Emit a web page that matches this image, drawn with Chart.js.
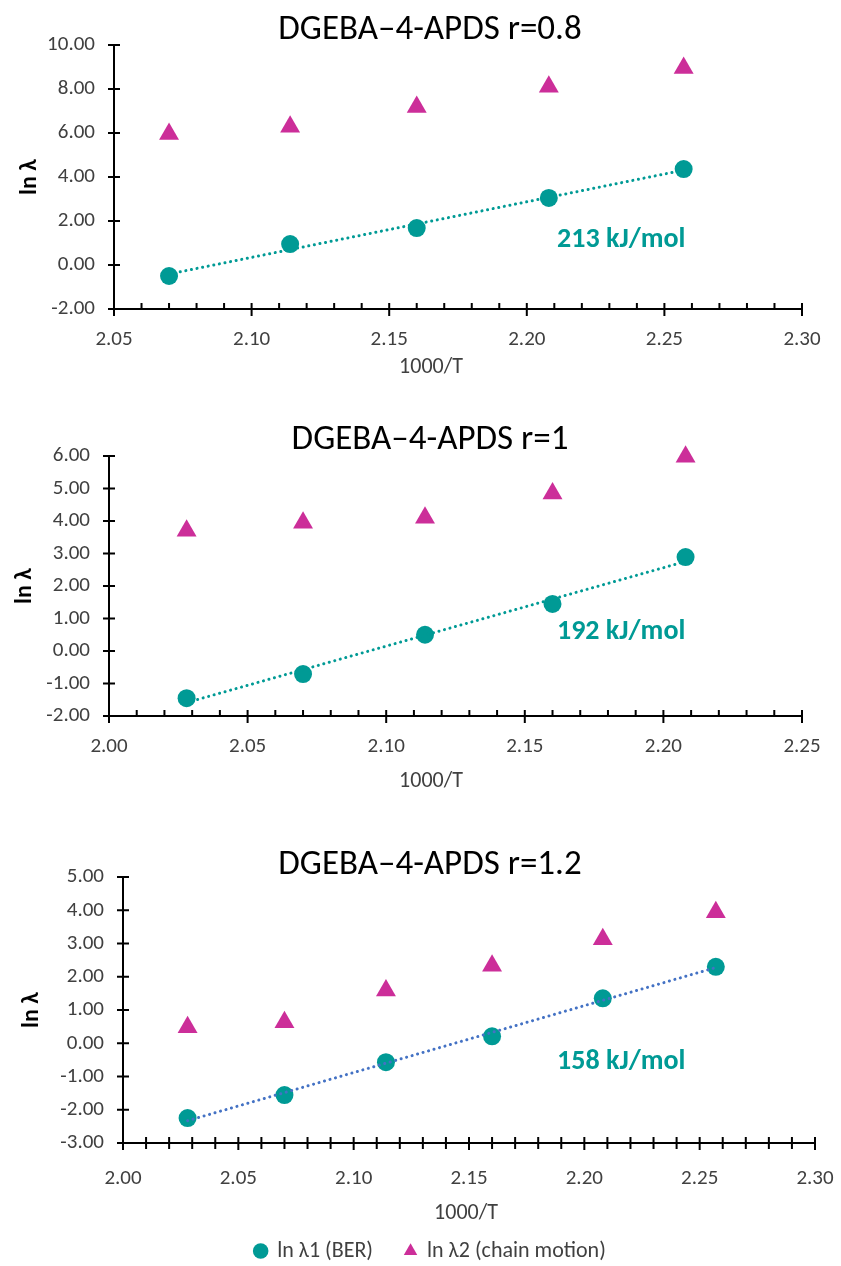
<!DOCTYPE html>
<html>
<head>
<meta charset="utf-8">
<script src="https://cdn.jsdelivr.net/npm/chart.js@4.4.1/dist/chart.umd.min.js"></script>
<style>
  body { margin: 0; background: #fff; width: 841px; height: 1266px; position: relative; overflow: hidden; }
  canvas { position: absolute; left: 0; }
</style>
</head>
<body>
<canvas id="c1" width="841" height="390" style="top:0"></canvas>
<canvas id="c2" width="841" height="410" style="top:400px"></canvas>
<canvas id="c3" width="841" height="446" style="top:820px"></canvas>
<script>
// 1000/T values and ln(lambda)
const xR08 = [2.070, 2.114, 2.160, 2.208, 2.257];
const lnL1R08 = [-0.50, 0.95, 1.68, 3.05, 4.36];
const lnL2R08 = [5.95, 6.28, 7.18, 8.10, 8.95];

const xR1 = [2.028, 2.070, 2.114, 2.160, 2.208];
const lnL1R1 = [-1.45, -0.71, 0.50, 1.45, 2.89];
const lnL2R1 = [3.70, 3.95, 4.10, 4.85, 5.98];

const xR12 = [2.028, 2.070, 2.114, 2.160, 2.208, 2.257];
const lnL1R12 = [-2.25, -1.56, -0.57, 0.21, 1.35, 2.30];
const lnL2R12 = [0.48, 0.63, 1.59, 2.33, 3.13, 3.94];

const titles = ['DGEBA\u20134-APDS r=0.8', 'DGEBA\u20134-APDS r=1', 'DGEBA\u20134-APDS r=1.2'];
const energies = ['213 kJ/mol', '192 kJ/mol', '158 kJ/mol'];
const seriesNames = ['ln \u03bb1 (BER)', 'ln \u03bb2 (chain motion)'];

const TEAL = '#009a95';
const MAGENTA = '#cc2e99';
const FONT = "Carlito, 'Liberation Sans', Arial, sans-serif";

function fit(xs, ys) {
  const n = xs.length;
  const mx = xs.reduce((a, b) => a + b, 0) / n;
  const my = ys.reduce((a, b) => a + b, 0) / n;
  let sxy = 0, sxx = 0;
  xs.forEach((x, i) => { sxy += (x - mx) * (ys[i] - my); sxx += (x - mx) * (x - mx); });
  const b = sxy / sxx;
  const a = my - b * mx;
  const x0 = xs[0], x1 = xs[n - 1];
  return [{ x: x0, y: a + b * x0 }, { x: x1, y: a + b * x1 }];
}

const decor = {
  id: 'decor',
  afterLayout(chart, args, o) {
    // legend sits a bit right of the canvas centre in the original
    if (o.legendShift && chart.legend) {
      chart.legend.left += o.legendShift;
      chart.legend.right += o.legendShift;
    }
  },
  afterDraw(chart, args, o) {
    const ctx = chart.ctx;
    const xs = chart.scales.x, ys = chart.scales.y;
    const { left, bottom } = chart.chartArea;
    ctx.save();
    ctx.strokeStyle = '#000';
    ctx.lineWidth = 2;
    ctx.beginPath();
    ys.ticks.forEach(t => {
      const p = ys.getPixelForValue(t.value);
      ctx.moveTo(left - 6, p); ctx.lineTo(left + 6, p);
    });
    const n = Math.round((xs.max - xs.min) / 0.01);
    for (let i = 0; i <= n; i++) {
      const p = xs.getPixelForValue(xs.min + i * 0.01);
      if (i % 5 === 0) { ctx.moveTo(p, bottom - 6); ctx.lineTo(p, bottom + 7); }
      else if (o.minorBoth) { ctx.moveTo(p, bottom - 6); ctx.lineTo(p, bottom + 6); }
      else { ctx.moveTo(p, bottom - 6); ctx.lineTo(p, bottom); }
    }
    ctx.stroke();

    ctx.textAlign = 'center';
    ctx.textBaseline = 'middle';
    ctx.fillStyle = '#000';
    ctx.font = '35px ' + FONT;
    ctx.fillText(o.title, 430, o.titleY);

    ctx.fillStyle = '#404040';
    ctx.font = '22px ' + FONT;
    ctx.fillText('1000/T', o.xTitle[0], o.xTitle[1]);

    ctx.fillStyle = TEAL;
    ctx.font = 'bold 28px ' + FONT;
    ctx.textAlign = 'left';
    ctx.fillText(o.label, xs.getPixelForValue(o.labelAt[0]), ys.getPixelForValue(o.labelAt[1]));
    ctx.restore();
  }
};

function makeChart(id, cfg) {
  const trendColor = cfg.trendColor || TEAL;
  const padB = cfg.padBottom || 0;
  new Chart(document.getElementById(id), {
    type: 'scatter',
    data: {
      datasets: [
        { label: 'trend', data: fit(cfg.x, cfg.y1), showLine: true, pointRadius: 0,
          borderColor: trendColor, borderWidth: 3, borderDash: [0.1, 5.6], borderCapStyle: 'round', order: 0, clip: false },
        { label: seriesNames[0], data: cfg.x.map((x, i) => ({ x, y: cfg.y1[i] })),
          pointStyle: 'circle', pointRadius: 9, backgroundColor: TEAL, borderColor: TEAL, borderWidth: 0, order: 1, clip: false },
        { label: seriesNames[1], data: cfg.x.map((x, i) => ({ x, y: cfg.y2[i] })),
          pointStyle: 'triangle', pointRadius: 11.5, backgroundColor: MAGENTA, borderColor: MAGENTA, borderWidth: 0, order: 1, clip: false }
      ]
    },
    options: {
      responsive: false,
      animation: false,
      layout: { padding: { left: cfg.padLeft, top: cfg.top, right: 841 - cfg.right, bottom: padB } },
      plugins: {
        legend: cfg.legend ? {
          display: true, position: 'bottom',
          labels: {
            usePointStyle: true, boxWidth: 11, boxHeight: 11, padding: 32, color: '#404040',
            font: { family: FONT, size: 22 },
            filter: item => item.text !== 'trend'
          }
        } : { display: false },
        tooltip: { enabled: false },
        decor: { title: cfg.title, titleY: cfg.titleY, label: cfg.label, labelAt: cfg.labelAt,
                 minorBoth: cfg.minorBoth, xTitle: cfg.xTitle, legendShift: cfg.legendShift || 0 }
      },
      scales: {
        x: {
          type: 'linear', min: cfg.xRange[0], max: cfg.xRange[1],
          ticks: { stepSize: 0.05, padding: 3, color: '#404040', font: { family: FONT, size: 21 }, callback: v => v.toFixed(2) },
          grid: { drawOnChartArea: false, drawTicks: true, tickLength: cfg.xPad - 3, tickColor: 'rgba(0,0,0,0)' },
          border: { color: '#000', width: 2 },
          afterFit: s => {
            const legendH = s.chart.legend && s.chart.options.plugins.legend.display ? s.chart.legend.height : 0;
            s.height = s.chart.height - cfg.bottom - legendH - padB;
          }
        },
        y: {
          min: cfg.yRange[0], max: cfg.yRange[1],
          ticks: { stepSize: cfg.yStep, padding: 19, color: '#404040', font: { family: FONT, size: 21 }, callback: v => v.toFixed(2) },
          grid: { drawOnChartArea: false, drawTicks: false },
          border: { color: '#000', width: 2 },
          title: { display: true, text: 'ln \u03bb', color: '#000', font: { family: FONT, size: 24, weight: 'bold' }, padding: 0 },
          afterFit: s => { s.width = cfg.left - cfg.padLeft; }
        }
      }
    },
    plugins: [decor]
  });
}

makeChart('c1', {
  x: xR08, y1: lnL1R08, y2: lnL2R08, title: titles[0], titleY: 30, label: energies[0], labelAt: [2.211, 1.14],
  xRange: [2.05, 2.30], yRange: [-2, 10], yStep: 2, xTitle: [431, 367],
  padLeft: 16, left: 114, right: 802, top: 45, bottom: 309, padBottom: 10, xPad: 18
});
makeChart('c2', {
  x: xR1, y1: lnL1R1, y2: lnL2R1, title: titles[1], titleY: 40, label: energies[1], labelAt: [2.1616, 0.58],
  xRange: [2.00, 2.25], yRange: [-2, 6], yStep: 1, xTitle: [431, 381],
  padLeft: 11, left: 109, right: 802, top: 56, bottom: 316, padBottom: 10, xPad: 18
});
makeChart('c3', {
  x: xR12, y1: lnL1R12, y2: lnL2R12, title: titles[2], titleY: 45, label: energies[2], labelAt: [2.1882, -0.57],
  xRange: [2.00, 2.30], yRange: [-3, 5], yStep: 1, xTitle: [466, 393],
  padLeft: 18, left: 123, right: 815, top: 57, bottom: 323, padBottom: -6, xPad: 23,
  trendColor: '#4472c4', minorBoth: true, legend: true, legendShift: 14
});
</script>
</body>
</html>
